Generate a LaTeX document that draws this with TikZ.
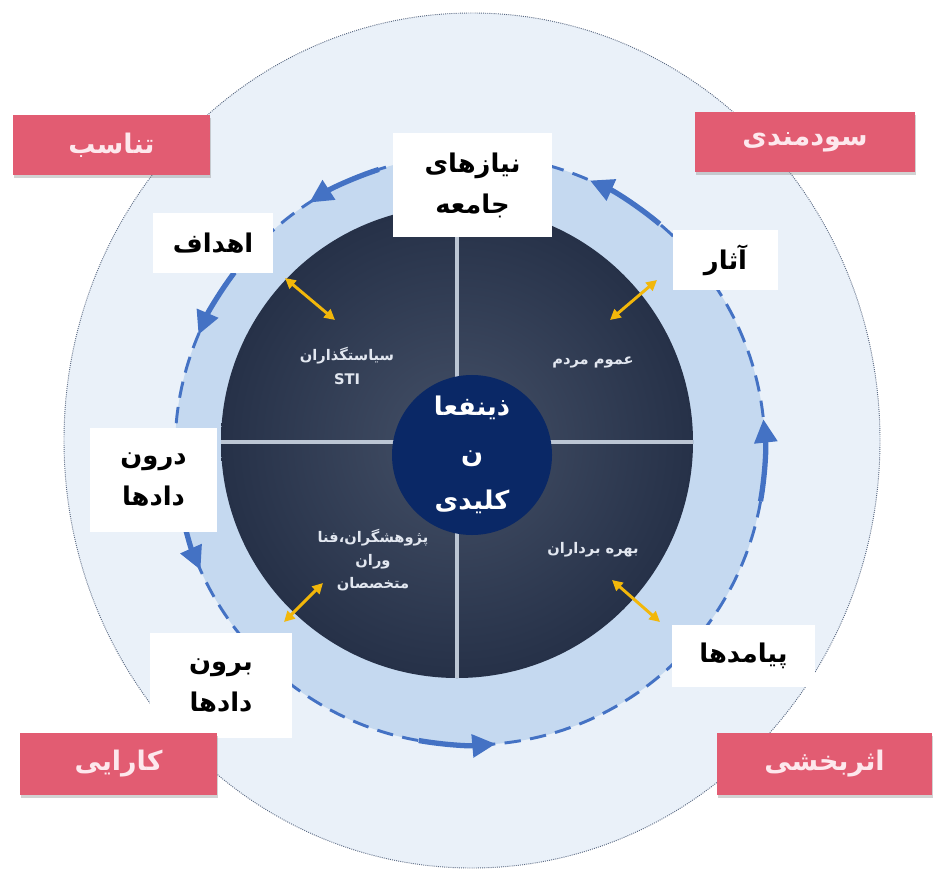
\documentclass[tikz,border=0pt]{standalone}
\usepackage{fontspec}
\usetikzlibrary{arrows.meta,shadows}
\newfontfamily\fa[Script=Arabic]{DejaVu Sans}
\TeXXeTstate=1
\newcommand{\rl}[1]{\beginR#1\endR}

\definecolor{outerfill}{RGB}{234,241,249}
\definecolor{dotgray}{RGB}{90,105,130}
\definecolor{ringblue}{RGB}{197,217,240}
\definecolor{flowblue}{RGB}{68,114,196}
\definecolor{darkin}{RGB}{68,80,103}
\definecolor{darkout}{RGB}{38,49,72}
\definecolor{sepgray}{RGB}{188,198,212}
\definecolor{navy}{RGB}{10,40,102}
\definecolor{gold}{RGB}{242,183,10}
\definecolor{rosered}{RGB}{226,92,114}
\definecolor{rosetext}{RGB}{253,232,237}
\definecolor{quadtext}{RGB}{226,231,240}

\tikzset{
  labelbox/.style={fill=white, inner sep=0pt, align=center,
    font=\fa\bfseries\fontsize{22}{35}\selectfont},
  critbox/.style={fill=rosered, text=rosetext, inner sep=0pt,
    font=\fa\bfseries\fontsize{23}{26}\selectfont,
    drop shadow={shadow xshift=1pt, shadow yshift=-2.5pt, opacity=0.35}},
  grouptext/.style={text=quadtext, align=center,
    font=\fa\bfseries\fontsize{12.5}{20}\selectfont},
  linkarrow/.style={{Triangle[length=9pt,width=9pt]}-{Triangle[length=9pt,width=9pt]},
    draw=gold, line width=2.5pt},
  flowarrow/.style={-{Triangle[length=20pt,width=19pt]}, draw=flowblue, line width=4.5pt}
}

\begin{document}
\begin{tikzpicture}[x=0.03cm, y=-0.03cm]

  % page
  \fill[white] (0,0) rectangle (934,879);
  \useasboundingbox (0,0) rectangle (934,879);

  % outer dotted circle
  \draw[fill=outerfill, draw=dotgray, densely dotted, line width=0.8pt]
    (472,440.5) ellipse[x radius=408, y radius=427.5];

  % light blue ring
  \coordinate (ringc) at (470,450);
  \fill[ringblue] (ringc) circle[radius=295];

  % dark disc and its four quarters
  \coordinate (cross) at (457,442);
  \shade[inner color=darkin, outer color=darkout] (cross) circle[radius=236];
  \draw[sepgray, line width=4pt] (457,206) -- (457,678);
  \draw[sepgray, line width=4pt] (221,442) -- (693,442);

  % quarter labels
  \node[grouptext] (policy) at (347,366) {\rl{سیاستگذاران}\\STI};
  \node[grouptext] (public) at (593,362) {\rl{عموم مردم}};
  \node[grouptext] (research) at (373,560)
    {\rl{پژوهشگران،فنا}\\\rl{وران}\\\rl{متخصصان}};
  \node[grouptext] (users) at (593,550) {\rl{بهره برداران}};

  % key stakeholders
  \node[circle, fill=navy, minimum size=4.8cm, inner sep=0pt, text=white,
    align=center, font=\fa\bfseries\fontsize{22}{40}\selectfont]
    (hub) at (472,455) {\rl{ذینفعا}\\\rl{ن}\\\rl{کلیدی}};

  % yellow links
  \coordinate (tla) at (285,278);  \coordinate (tlb) at (335,320);
  \coordinate (tra) at (657,280);  \coordinate (trb) at (610,320);
  \coordinate (bla) at (284,622);  \coordinate (blb) at (323,583);
  \coordinate (bra) at (660,622);  \coordinate (brb) at (612,580);
  \draw[linkarrow] (tla) -- (tlb);
  \draw[linkarrow] (tra) -- (trb);
  \draw[linkarrow] (bla) -- (blb);
  \draw[linkarrow] (bra) -- (brb);

  % dashed flow circle
  \draw[flowblue, line width=2.5pt, dash pattern=on 14pt off 8pt]
    (ringc) circle[radius=295];
  % flow arrows
  \foreach \a/\b in {-50/-66, 10/-6, -108/-123, -143/-157, -191/-204, -260/-275}
    \draw[flowarrow] (ringc) ++(\a:295) arc[start angle=\a, end angle=\b, radius=295];

  % white labels
  \node[labelbox, minimum width=4.77cm, minimum height=3.12cm] (needs) at (472.5,185)
    {\rl{نیازهای}\\\rl{جامعه}};
  \node[labelbox, minimum width=3.6cm, minimum height=1.8cm] (goals) at (213,243)
    {\rl{اهداف}};
  \node[labelbox, minimum width=3.15cm, minimum height=1.8cm] (impacts) at (725.5,260)
    {\rl{آثار}};
  \node[labelbox, minimum width=3.81cm, minimum height=3.12cm] (inputs) at (153.5,480)
    {\rl{درون}\\\rl{دادها}};
  \node[labelbox, minimum width=4.26cm, minimum height=3.15cm] (outputs) at (221,685.5)
    {\rl{برون}\\\rl{دادها}};
  \node[labelbox, minimum width=4.29cm, minimum height=1.86cm] (outcomes) at (743.5,656)
    {\rl{پیامدها}};

  % pink criteria
  \node[critbox, minimum width=5.91cm, minimum height=1.8cm] (relevance) at (111.5,145)
    {\rl{تناسب}};
  \node[critbox, minimum width=6.6cm, minimum height=1.8cm] (utility) at (805,142)
    {\rl{سودمندی}};
  \node[critbox, minimum width=5.91cm, minimum height=1.86cm] (efficiency) at (118.5,764)
    {\rl{کارایی}};
  \node[critbox, minimum width=6.45cm, minimum height=1.86cm] (effectiveness) at (824.5,764)
    {\rl{اثربخشی}};

\end{tikzpicture}
\end{document}
